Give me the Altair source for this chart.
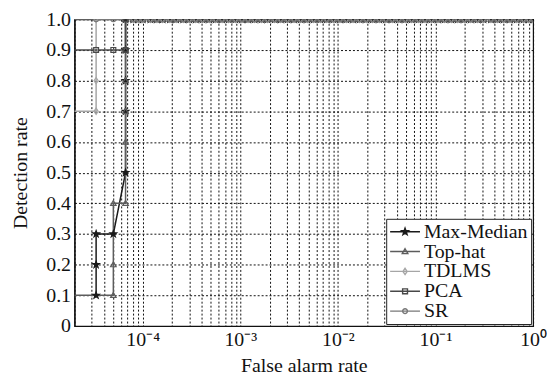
import altair as alt
import pandas as pd

# ---------------- data ----------------
series_names = ["Max-Median", "Top-hat", "TDLMS", "PCA", "SR"]
series_colors = ["#1a1a1a", "#5c5c5c", "#a6a6a6", "#484848", "#787878"]
series_fills = ["#1a1a1a", "transparent", "transparent", "transparent", "transparent"]

# false alarm rate / detection rate, per series (first value 1e-5 lies left of the axis and is clipped)
mm_fa = [3.33e-5, 3.33e-5, 3.33e-5, 5e-5, 6.67e-5, 6.67e-5, 6.67e-5, 6.67e-5, 6.67e-5]
mm_pd = [0.1, 0.2, 0.3, 0.3, 0.5, 0.7, 0.8, 0.9, 1.0]
th_fa = [1e-5, 5e-5, 5e-5, 5e-5, 6.67e-5, 6.67e-5, 6.67e-5, 6.67e-5, 6.67e-5, 6.67e-5]
th_pd = [0.1, 0.1, 0.2, 0.4, 0.4, 0.6, 0.7, 0.8, 0.9, 1.0]
td_fa = [1e-5, 3.33e-5, 3.33e-5, 3.33e-5, 3.33e-5]
td_pd = [0.7, 0.7, 0.8, 0.9, 1.0]
pca_fa = [1e-5, 3.33e-5, 5e-5, 6.67e-5, 6.67e-5]
pca_pd = [0.9, 0.9, 0.9, 0.9, 1.0]
sr_fa = [1e-5, 3.33e-5, 5e-5]
sr_pd = [1.0, 1.0, 1.0]

# all detectors stay at detection rate 1.0 over these false alarm rates
plateau_fa = [8e-5, 9e-5, 1e-4, 1.2e-4, 1.4e-4, 1.6e-4, 1.9e-4, 2.2e-4, 2.6e-4, 3e-4,
              3.5e-4, 4.1e-4, 4.8e-4, 5.6e-4, 6.5e-4, 7.6e-4, 8.9e-4, 1.04e-3, 1.2e-3,
              1.4e-3, 1.65e-3, 1.9e-3, 2.25e-3, 2.6e-3, 3.05e-3, 3.55e-3, 4.15e-3,
              4.85e-3, 5.65e-3, 6.6e-3, 7.7e-3, 9e-3, 0.0105, 0.0122, 0.0143, 0.0167,
              0.0195, 0.0227, 0.0265, 0.031, 0.036, 0.042, 0.049, 0.057, 0.067, 0.078,
              0.091, 0.106, 0.124, 0.145, 0.169, 0.197, 0.23, 0.27, 0.31, 0.37, 0.43,
              0.5, 0.58, 0.68, 0.8, 0.9, 1.0]

x_major_labels = {-4: "10⁻⁴", -3: "10⁻³", -2: "10⁻²", -1: "10⁻¹", 0: "10⁰"}
y_ticks = [0, 0.1, 0.2, 0.3, 0.4, 0.5, 0.6, 0.7, 0.8, 0.9, 1.0]

# ---------------- build tables ----------------
rows = []
for name, fa, pdv in [("Max-Median", mm_fa, mm_pd), ("Top-hat", th_fa, th_pd),
                      ("TDLMS", td_fa, td_pd), ("PCA", pca_fa, pca_pd), ("SR", sr_fa, sr_pd)]:
    xs = list(fa) + plateau_fa
    ys = list(pdv) + [1.0] * len(plateau_fa)
    for i, (a, b) in enumerate(zip(xs, ys)):
        rows.append({"series": name, "fa": a, "pd": b, "step": i})
df = pd.DataFrame(rows)

# legend-only rows: placed left of the x domain, so they are clipped away
legend_df = pd.DataFrame({"series": series_names, "fa": [1e-6] * 5, "pd": [0.5] * 5})

# grid positions on the log axis
x_ticks = []
for e in range(-5, 1):
    for m in range(1, 10):
        v = m * 10.0 ** e
        if 2e-5 - 1e-12 <= v <= 1.0 + 1e-12:
            x_ticks.append(v)

# ---------------- marker shapes ----------------
def poly(pts, s=1.0):
    return "M" + "L".join(f"{x * s:.3f},{y * s:.3f}" for x, y in pts) + "Z"


def circ(r):
    return f"M{r:.3f},0A{r:.3f},{r:.3f},0,1,1,{-r:.3f},0A{r:.3f},{r:.3f},0,1,1,{r:.3f},0Z"


star = [(0, -1), (0.235, -0.324), (0.951, -0.309), (0.380, 0.124), (0.588, 0.809),
        (0, 0.4), (-0.588, 0.809), (-0.380, 0.124), (-0.951, -0.309), (-0.235, -0.324)]
tri = [(0, -0.8), (0.8, 0.6), (-0.8, 0.6)]
dia = [(0, -0.9), (0.6, 0), (0, 0.9), (-0.6, 0)]
sq = [(-0.7, -0.7), (0.7, -0.7), (0.7, 0.7), (-0.7, 0.7)]

marker_paths = [poly(star), poly(tri), poly(dia), poly(sq), circ(0.7)]
ls = 0.39  # marker scale inside the wider legend symbol (line + marker)
legend_paths = ["M-1.67,0L1.67,0" + p for p in
                [poly(star, ls), poly(tri, ls), poly(dia, ls), poly(sq, ls), circ(0.7 * ls)]]

label_expr = "abs(log(datum.value)/LN10 - round(log(datum.value)/LN10)) > 0.001 ? '' : "
for e, lab in x_major_labels.items():
    label_expr += f"round(log(datum.value)/LN10) == {e} ? '{lab}' : "
label_expr += "''"

FONT = "'Liberation Serif', 'Times New Roman', Times, serif"

legend = alt.Legend(title=None, orient="bottom-right", offset=2, padding=3,
                    fillColor="white", strokeColor="#222",
                    labelFont=FONT, labelFontSize=20, labelColor="#111",
                    symbolSize=324, symbolStrokeWidth=1.4, symbolOpacity=1,
                    symbolOffset=6, labelOffset=9, rowPadding=0, labelLimit=300)

x = alt.X("fa:Q", title="False alarm rate",
          scale=alt.Scale(type="log", domain=[2e-5, 1], nice=False),
          axis=alt.Axis(values=x_ticks, labelExpr=label_expr, labelOverlap=False,
                        labelFlush=False, ticks=False, labelPadding=4, titlePadding=6))
y = alt.Y("pd:Q", title="Detection rate",
          scale=alt.Scale(domain=[0, 1], nice=False),
          axis=alt.Axis(values=y_ticks, labelExpr="datum.value == 0 ? '0' : format(datum.value, '.1f')",
                        labelFlush=False, ticks=False, labelPadding=4, titlePadding=15))
color = alt.Color("series:N", scale=alt.Scale(domain=series_names, range=series_colors),
                  legend=legend)

lines = alt.Chart(df).mark_line(clip=True, strokeWidth=1.5).encode(
    x=x, y=y, color=color, order="step:Q")

point_layers = []
for name, path, fillc in zip(series_names, marker_paths, series_fills):
    point_layers.append(
        alt.Chart(df).transform_filter(alt.datum.series == name)
        .mark_point(clip=True, size=49, strokeWidth=1.2, opacity=1, shape=path, fill=fillc)
        .encode(x=x, y=y, color=color)
    )

legend_layer = alt.Chart(legend_df).mark_point(clip=True, size=324, strokeWidth=1.4, opacity=1).encode(
    x=x, y=y, color=color,
    shape=alt.Shape("series:N", scale=alt.Scale(domain=series_names, range=legend_paths), legend=legend),
    fill=alt.Fill("series:N", scale=alt.Scale(domain=series_names, range=series_fills), legend=legend))

chart = alt.layer(lines, *point_layers, legend_layer).properties(
    width=462, height=309, background="white",
    padding={"left": 3, "top": 0, "right": 0, "bottom": 0},
).configure_view(stroke="#111", strokeWidth=1.2).configure_axis(
    labelFont=FONT, titleFont=FONT, labelFontSize=20, titleFontSize=20,
    labelColor="#111", titleColor="#111", titleFontWeight="normal",
    domainColor="#111", domainWidth=1.2,
    grid=True, gridColor="#111", gridDash=[2, 2], gridWidth=1, gridOpacity=1,
)

chart.save("out.html", embed_options={"renderer": "svg", "actions": False})
